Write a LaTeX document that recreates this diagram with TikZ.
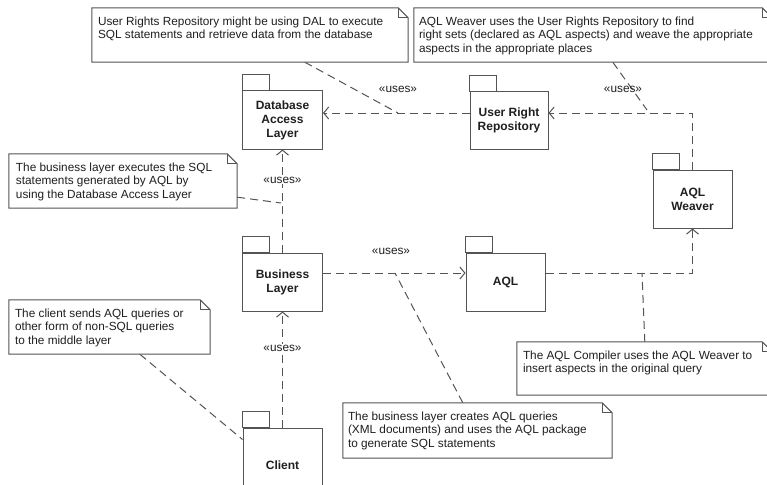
\documentclass[tikz,border=0pt]{standalone}
\usepackage{fontspec}
\setmainfont{Liberation Sans}
\usetikzlibrary{arrows.meta,calc}
\definecolor{ln}{gray}{0.33}
\definecolor{tx}{gray}{0.12}
\tikzset{
 pkg/.style={draw=ln, line width=1pt, fill=white, inner sep=0pt, align=center,
   font=\fontsize{12}{14}\selectfont\bfseries, text=tx},
 notefr/.style={inner sep=0pt, draw=none},
 notetxt/.style={anchor=north west, inner sep=0pt, align=left,
   font=\fontsize{11.8}{13.8}\selectfont, text=tx},
 dep/.style={draw=ln, line width=1pt, dash pattern=on 8pt off 5pt,
   -{Straight Barb[length=5pt,width=12pt]}},
 anch/.style={draw=ln, line width=1pt, dash pattern=on 8pt off 5pt},
 uses/.style={font=\fontsize{11.8}{13}\selectfont, text=tx, inner sep=1pt},
 usesw/.style={uses, fill=white},
}
\newcommand\notedraw[1]{%
  \draw[ln, line width=1pt, fill=white] (#1.north west) -- ([xshift=-10pt]#1.north east)
    -- ([yshift=-10pt]#1.north east) -- (#1.south east) -- (#1.south west) -- cycle;
  \draw[ln, line width=1pt] ([xshift=-10pt]#1.north east)
    -- ([xshift=-10pt,yshift=-10pt]#1.north east) -- ([yshift=-10pt]#1.north east);}
\newcommand\pkgtab[1]{\draw[ln, line width=1pt, fill=white] (#1.north west) rectangle ++(27,-16);}
\begin{document}
\begin{tikzpicture}[x=1pt,y=-1pt]
\useasboundingbox[fill=white] (0,0) rectangle (767,484);

% packages
\node[pkg, minimum width=80pt, minimum height=58pt] (dal) at (282.5,120) {Database\\Access\\Layer};
\node[pkg, minimum width=78pt, minimum height=57pt] (urr) at (509,120.5) {User Right\\Repository};
\node[pkg, minimum width=79pt, minimum height=58pt] (weaver) at (692.5,199) {AQL\\Weaver};
\node[pkg, minimum width=80pt, minimum height=58pt] (bl) at (282.5,282) {Business\\Layer};
\node[pkg, minimum width=79pt, minimum height=58pt] (aql) at (505.5,282) {AQL};
\node[pkg, minimum width=79pt, minimum height=74pt] (client) at (282.5,465) {Client};
\foreach \p in {dal,urr,weaver,bl,aql,client} {\pkgtab{\p}}

% note frames
\node[notefr, minimum width=316pt, minimum height=54pt] (n1) at (250,35) {};
\node[notefr, minimum width=358pt, minimum height=54pt] (n2) at (593,35) {};
\node[notefr, minimum width=228pt, minimum height=54pt] (n3) at (123,181) {};
\node[notefr, minimum width=201pt, minimum height=54pt] (n4) at (109.5,327) {};
\node[notefr, minimum width=269pt, minimum height=55pt] (n5) at (477.5,430.5) {};
\node[notefr, minimum width=255pt, minimum height=53pt] (n6) at (644.5,368.5) {};

% helper coordinates
\coordinate (yt) at (0,113);
\coordinate (ym) at (0,273);
\coordinate (a1) at (398,113);
\coordinate (a2) at (647,110);
\coordinate (a3) at (281,203);
\coordinate (a5) at (395,273);
\coordinate (a6) at (642,273);

% dependencies
\draw[dep] (urr.west |- yt) -- (dal.east |- yt);
\draw[dep] (weaver.north) |- (urr.east |- yt);
\draw[dep] (bl.north) -- (dal.south);
\draw[dep] (bl.east |- ym) -- (aql.west |- ym);
\draw[dep] (aql.east |- ym) -| (weaver.south);
\draw[dep] (client.north) -- (bl.south);

% note anchors
\draw[anch] ([xshift=213pt]n1.south west) -- (a1);
\draw[anch] ([xshift=199pt]n2.south west) -- (a2);
\draw[anch] ([yshift=11pt]n3.south east) -- (a3);
\draw[anch] ([xshift=131pt]n4.south west) -- ([yshift=-12pt]client.north west);
\draw[anch] ([xshift=120pt]n5.north west) -- (a5);
\draw[anch] ([xshift=128pt]n6.north west) -- (a6);

% notes
\foreach \n in {n1,n2,n3,n4,n5,n6} {\notedraw{\n}}
\node[notetxt] (t1) at ([shift={(6pt,-8.5pt)}]n1.north west) {User Rights Repository might be using DAL to execute\\SQL statements and retrieve data from the database};
\node[notetxt] (t2) at ([shift={(5pt,-8.5pt)}]n2.north west) {AQL Weaver uses the User Rights Repository to find\\right sets (declared as AQL aspects) and weave the appropriate\\aspects in the appropriate places};
\node[notetxt] (t3) at ([shift={(7pt,-8.5pt)}]n3.north west) {The business layer executes the SQL\\statements generated by AQL by\\using the Database Access Layer};
\node[notetxt] (t4) at ([shift={(6pt,-8.5pt)}]n4.north west) {The client sends AQL queries or\\other form of non-SQL queries\\to the middle layer};
\node[notetxt] (t5) at ([shift={(5pt,-8.5pt)}]n5.north west) {The business layer creates AQL queries\\(XML documents) and uses the AQL package\\to generate SQL statements};
\node[notetxt] (t6) at ([shift={(6pt,-8.5pt)}]n6.north west) {The AQL Compiler uses the AQL Weaver to\\insert aspects in the original query};

% labels
\node[uses] (l1) at (398,89) {«uses»};
\node[uses] (l2) at (623,89) {«uses»};
\node[usesw] (l3) at (282.5,180) {«uses»};
\node[uses] (l4) at (391,251) {«uses»};
\node[usesw] (l5) at (282.5,348) {«uses»};
\end{tikzpicture}
\end{document}
